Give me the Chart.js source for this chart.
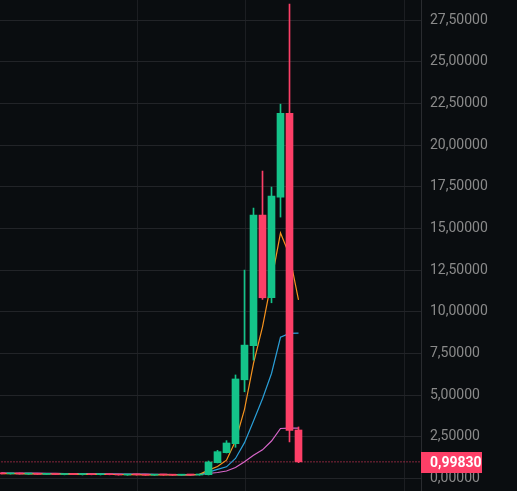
<!DOCTYPE html>
<html>
<head>
<meta charset="utf-8">
<script src="https://cdn.jsdelivr.net/npm/chart.js@4.4.1/dist/chart.umd.min.js"></script>
<style>
  html, body { margin: 0; padding: 0; background: #0a0d10; }
  #chart { display: block; }
</style>
</head>
<body>
<canvas id="chart" width="517" height="491"></canvas>
<script>
// Weekly candles, oldest first (index = candle slot)
const opens  = [0.31, 0.28, 0.30, 0.27, 0.29, 0.25, 0.27, 0.24, 0.26, 0.24, 0.25, 0.23, 0.26, 0.23, 0.21, 0.23, 0.22, 0.20, 0.22, 0.21, 0.20, 0.22, 0.21,
                0.23, 0.95, 1.55, 2.09, 5.92, 7.96, 15.80, 10.84, 16.88, 21.91, 2.91];
const highs  = [0.34, 0.32, 0.33, 0.31, 0.31, 0.29, 0.30, 0.28, 0.29, 0.27, 0.28, 0.27, 0.28, 0.26, 0.25, 0.26, 0.25, 0.24, 0.25, 0.24, 0.23, 0.25, 0.24,
                1.05, 1.69, 2.27, 6.21, 12.50, 16.22, 18.44, 17.48, 22.45, 28.45, 3.09];
const lows   = [0.27, 0.26, 0.26, 0.24, 0.24, 0.23, 0.23, 0.22, 0.23, 0.21, 0.22, 0.21, 0.22, 0.20, 0.19, 0.20, 0.19, 0.18, 0.19, 0.18, 0.18, 0.19, 0.19,
                0.21, 0.93, 1.53, 1.87, 5.20, 7.10, 10.74, 10.54, 15.68, 2.20, 0.95];
const closes = [0.28, 0.30, 0.27, 0.29, 0.25, 0.27, 0.24, 0.26, 0.24, 0.25, 0.23, 0.26, 0.23, 0.21, 0.23, 0.22, 0.20, 0.22, 0.21, 0.20, 0.22, 0.21, 0.23,
                0.99, 1.61, 2.13, 5.97, 8.00, 15.80, 10.84, 16.94, 21.91, 2.88, 0.9983];

// Moving averages
const maFast = [0.29, 0.29, 0.29, 0.28, 0.28, 0.27, 0.27, 0.26, 0.26, 0.25, 0.25, 0.25, 0.24, 0.24, 0.23, 0.23, 0.22, 0.22, 0.22, 0.21, 0.21, 0.21, 0.25,
                0.50, 0.72, 1.10, 2.25, 4.15, 6.90, 9.10, 11.85, 14.73, 13.40, 10.72];
const maMid  = [0.30, 0.30, 0.29, 0.29, 0.29, 0.28, 0.28, 0.28, 0.27, 0.27, 0.27, 0.26, 0.26, 0.26, 0.25, 0.25, 0.25, 0.24, 0.24, 0.23, 0.23, 0.23, 0.24,
                0.38, 0.55, 0.70, 1.20, 2.15, 3.45, 4.78, 6.30, 8.47, 8.70, 8.72];
const maSlow = [0.34, 0.33, 0.33, 0.32, 0.32, 0.31, 0.31, 0.30, 0.30, 0.29, 0.29, 0.28, 0.28, 0.27, 0.27, 0.26, 0.26, 0.25, 0.25, 0.24, 0.23, 0.22, 0.25,
                0.30, 0.36, 0.45, 0.66, 1.00, 1.40, 1.72, 2.25, 3.00, 3.02, 3.02];

// Vertical time grid lines (in candle slots)
const timeGridLines = [15.06, 27.06, 44.83];

const UP = '#14c389';
const DOWN = '#fd3f67';
const candleColors = opens.map((o, i) => closes[i] >= o ? UP : DOWN);
const lastClose = closes[closes.length - 1];
const fmt = v => Number(v).toFixed(5).replace('.', ',');

const toPoints = arr => arr.map((v, i) => ({ x: i, y: v }));

// Price tag on the right axis
const priceTag = {
    id: 'priceTag',
    afterDraw(chart) {
        const { ctx, chartArea, scales } = chart;
        const y = Math.round(scales.y.getPixelForValue(lastClose));
        ctx.save();
        ctx.fillStyle = DOWN;
        ctx.fillRect(chartArea.right, y - 10, 61, 21);
        ctx.fillStyle = '#ffffff';
        ctx.font = 'bold 14px Roboto';
        ctx.textBaseline = 'middle';
        ctx.fillText(fmt(lastClose), chartArea.right + 9, y + 1);
        ctx.restore();
    }
};

// no label overflow padding, plot fills the canvas
const noPadding = s => {
    s.paddingTop = 0;
    s.paddingBottom = 0;
    s.paddingLeft = 0;
    s.paddingRight = 0;
};

new Chart(document.getElementById('chart'), {
    type: 'bar',
    data: {
        datasets: [
            {
                label: 'body',
                data: opens.map((o, i) => ({ x: i, y: [o, closes[i]] })),
                backgroundColor: candleColors,
                barThickness: 7,
                minBarLength: 1,
                grouped: false,
                order: 1
            },
            {
                label: 'wick',
                data: lows.map((l, i) => ({ x: i, y: [l, highs[i]] })),
                backgroundColor: candleColors,
                barThickness: 1,
                grouped: false,
                order: 2
            },
            {
                type: 'line',
                label: 'ma fast',
                data: toPoints(maFast),
                borderColor: '#f7931e',
                borderWidth: 1.2,
                pointRadius: 0,
                order: 3
            },
            {
                type: 'line',
                label: 'ma mid',
                data: toPoints(maMid),
                borderColor: '#2a9fd8',
                borderWidth: 1.2,
                pointRadius: 0,
                order: 4
            },
            {
                type: 'line',
                label: 'ma slow',
                data: toPoints(maSlow),
                borderColor: '#d766c9',
                borderWidth: 1.2,
                pointRadius: 0,
                order: 5
            },
            {
                type: 'line',
                label: 'last price',
                data: [{ x: -1, y: lastClose }, { x: 50, y: lastClose }],
                borderColor: DOWN,
                borderWidth: 1,
                borderDash: [1, 2],
                pointRadius: 0,
                order: 6
            }
        ]
    },
    options: {
        responsive: false,
        animation: false,
        devicePixelRatio: 1,
        layout: { padding: 0 },
        plugins: {
            legend: { display: false },
            tooltip: { enabled: false }
        },
        scales: {
            x: {
                type: 'linear',
                min: -1.5 / 9,
                max: -1.5 / 9 + 421 / 9,
                offset: false,
                ticks: { display: false },
                grid: { color: '#1c1e22', drawTicks: false, offset: false },
                border: { display: false },
                afterBuildTicks: s => { s.ticks = timeGridLines.map(v => ({ value: v })); },
                afterFit: s => { s.height = 0; noPadding(s); }
            },
            y: {
                position: 'right',
                min: -0.75,
                max: 28.70,
                afterFit: s => { s.width = 96; noPadding(s); },
                ticks: {
                    stepSize: 2.5,
                    includeBounds: false,
                    color: '#8a8a8a',
                    padding: 9,
                    font: { family: 'Roboto', size: 14 },
                    callback: v => fmt(v)
                },
                grid: { color: '#222428', drawTicks: false },
                border: { color: '#2a2c30' }
            }
        }
    },
    plugins: [priceTag]
});
</script>
</body>
</html>
